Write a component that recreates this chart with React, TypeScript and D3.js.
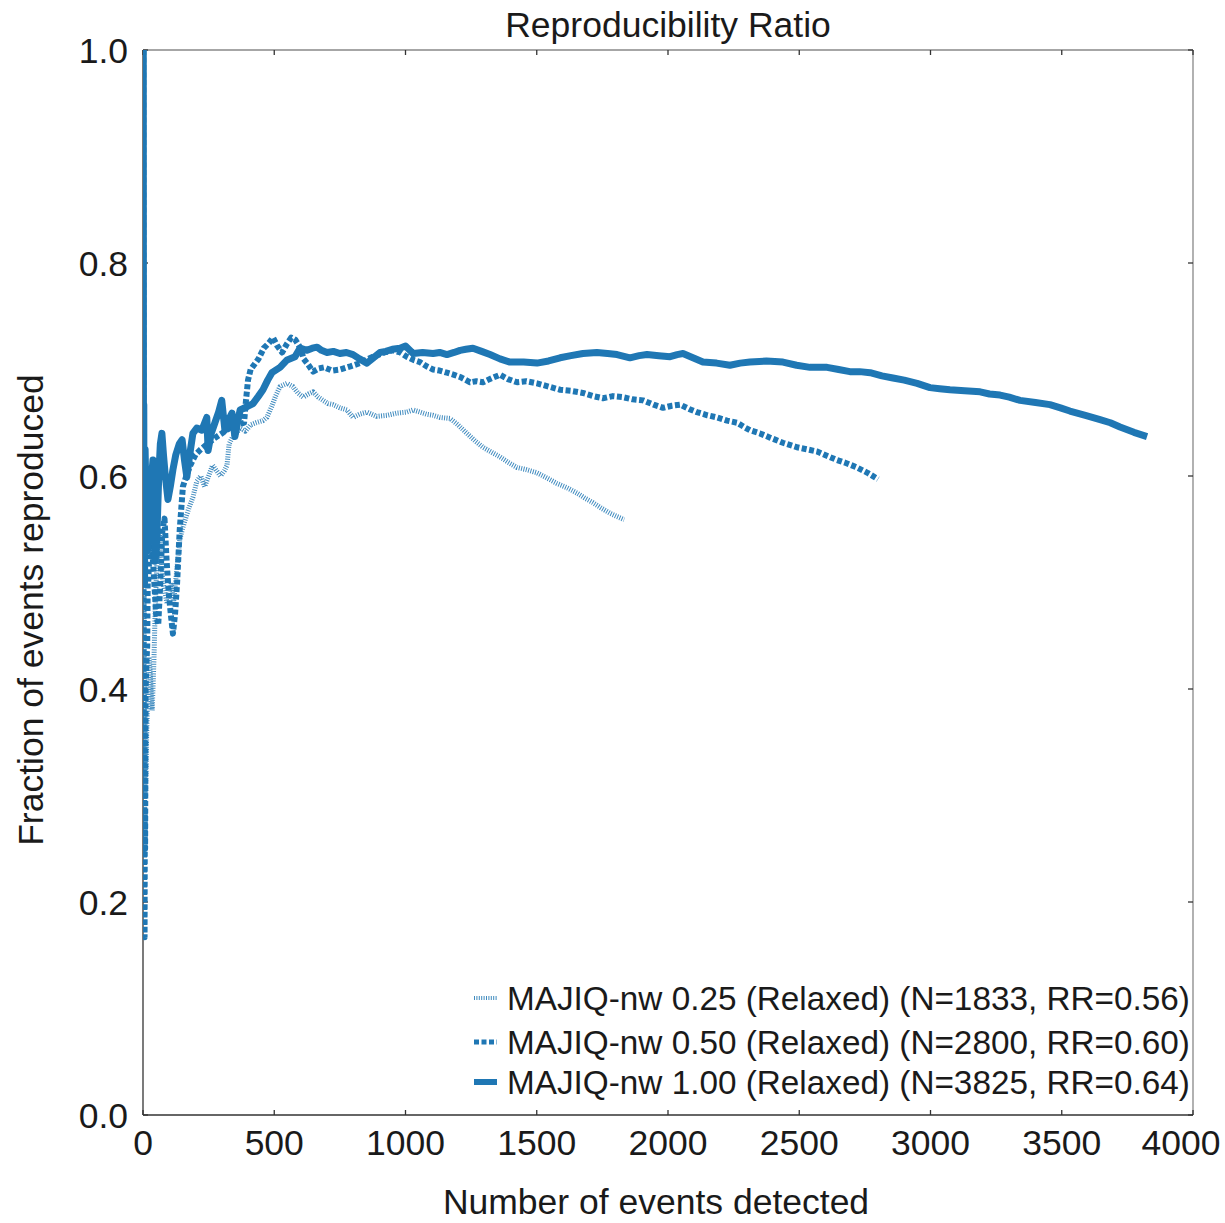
import React from "react";
import * as d3 from "d3";

const title = "Reproducibility Ratio";
const xLabel = "Number of events detected";
const yLabel = "Fraction of events reproduced";
const xTicks = [0, 500, 1000, 1500, 2000, 2500, 3000, 3500, 4000];
const yTicks = [0, 0.2, 0.4, 0.6, 0.8, 1.0];

const seriesNames = [
  "MAJIQ-nw 0.25 (Relaxed) (N=1833, RR=0.56)",
  "MAJIQ-nw 0.50 (Relaxed) (N=2800, RR=0.60)",
  "MAJIQ-nw 1.00 (Relaxed) (N=3825, RR=0.64)",
];

// [events detected, fraction reproduced]
const dotted025: [number, number][] = [
  [1, 0.5], [2, 0.5], [3, 0.333], [4, 0.5], [5, 0.4], [6, 0.333], [7, 0.286], [8, 0.375], [9, 0.333], [10, 0.3],
  [12, 0.333], [14, 0.357], [16, 0.375], [18, 0.389], [20, 0.4], [23, 0.43], [26, 0.42], [29, 0.41], [32, 0.39],
  [35, 0.38], [38, 0.4], [42, 0.43], [46, 0.47], [50, 0.5], [55, 0.53], [60, 0.55], [65, 0.54], [70, 0.52],
  [76, 0.5], [84, 0.49], [92, 0.48], [100, 0.49], [108, 0.5], [116, 0.48], [124, 0.5], [132, 0.52], [140, 0.54],
  [150, 0.55], [162, 0.56], [175, 0.57], [190, 0.58], [205, 0.595], [220, 0.6], [235, 0.59], [250, 0.6],
  [265, 0.61], [280, 0.605], [295, 0.6], [310, 0.605], [320, 0.61], [328, 0.63], [340, 0.636], [355, 0.64],
  [370, 0.645], [390, 0.642], [410, 0.648], [430, 0.65], [457, 0.652], [472, 0.655], [490, 0.665], [505, 0.675],
  [522, 0.684], [549, 0.687], [571, 0.684], [590, 0.678], [610, 0.674], [630, 0.677], [648, 0.679], [668, 0.674],
  [686, 0.671], [705, 0.668], [724, 0.667], [750, 0.664], [777, 0.662], [800, 0.655], [825, 0.658], [853, 0.66],
  [890, 0.656], [930, 0.657], [965, 0.659], [1005, 0.66], [1029, 0.662], [1055, 0.66], [1080, 0.658], [1105, 0.657],
  [1131, 0.655], [1170, 0.654], [1200, 0.648], [1234, 0.64], [1265, 0.633], [1295, 0.627], [1330, 0.622],
  [1360, 0.618], [1390, 0.613], [1425, 0.608], [1460, 0.606], [1501, 0.603], [1540, 0.598], [1577, 0.593],
  [1615, 0.589], [1653, 0.584], [1685, 0.579], [1714, 0.575], [1745, 0.57], [1779, 0.565], [1805, 0.562],
  [1833, 0.559],
];

const dashed050: [number, number][] = [
  [1, 1.0], [2, 0.5], [3, 0.333], [4, 0.25], [5, 0.2], [6, 0.167], [7, 0.286], [8, 0.25], [9, 0.333], [10, 0.4],
  [12, 0.417], [14, 0.43], [16, 0.44], [18, 0.5], [20, 0.5], [23, 0.52], [26, 0.54], [30, 0.55], [34, 0.53],
  [38, 0.52], [43, 0.5], [50, 0.47], [58, 0.46], [66, 0.5], [74, 0.55], [82, 0.56], [90, 0.52], [98, 0.49],
  [106, 0.47], [114, 0.452], [122, 0.47], [130, 0.5], [140, 0.55], [152, 0.59], [165, 0.6], [180, 0.61],
  [200, 0.62], [220, 0.625], [245, 0.63], [270, 0.635], [300, 0.64], [330, 0.645], [360, 0.648], [385, 0.65],
  [392, 0.67], [400, 0.69], [410, 0.7], [425, 0.705], [440, 0.71], [460, 0.72], [480, 0.725], [495, 0.73],
  [512, 0.722], [530, 0.716], [548, 0.724], [565, 0.73], [580, 0.728], [600, 0.72], [612, 0.71], [625, 0.706],
  [648, 0.698], [670, 0.701], [690, 0.702], [720, 0.699], [750, 0.7], [790, 0.703], [827, 0.706], [850, 0.709],
  [876, 0.712], [920, 0.716], [952, 0.718], [980, 0.716], [1005, 0.712], [1030, 0.709], [1055, 0.707],
  [1080, 0.703], [1105, 0.7], [1130, 0.699], [1158, 0.697], [1185, 0.695], [1208, 0.693], [1246, 0.688],
  [1270, 0.689], [1295, 0.688], [1330, 0.692], [1360, 0.695], [1390, 0.691], [1425, 0.688], [1460, 0.689],
  [1501, 0.687], [1545, 0.684], [1589, 0.681], [1630, 0.68], [1676, 0.678], [1715, 0.675], [1752, 0.673],
  [1790, 0.675], [1829, 0.674], [1865, 0.672], [1905, 0.671], [1945, 0.667], [1981, 0.664], [2015, 0.666],
  [2046, 0.667], [2080, 0.663], [2110, 0.66], [2150, 0.657], [2187, 0.655], [2225, 0.652], [2263, 0.65],
  [2290, 0.646], [2312, 0.643], [2350, 0.64], [2389, 0.636], [2440, 0.631], [2491, 0.627], [2530, 0.625],
  [2568, 0.623], [2605, 0.619], [2644, 0.615], [2680, 0.612], [2720, 0.608], [2760, 0.603], [2800, 0.597],
];

const solid100: [number, number][] = [
  [1, 1.0], [2, 0.5], [3, 0.667], [4, 0.5], [5, 0.6], [6, 0.5], [7, 0.571], [8, 0.625], [10, 0.6], [12, 0.583],
  [14, 0.571], [17, 0.53], [20, 0.55], [24, 0.54], [28, 0.57], [33, 0.6], [38, 0.615], [42, 0.57], [46, 0.52],
  [50, 0.53], [55, 0.56], [60, 0.6], [66, 0.63], [72, 0.64], [78, 0.62], [85, 0.6], [95, 0.578], [104, 0.59],
  [114, 0.606], [125, 0.62], [138, 0.63], [149, 0.634], [158, 0.615], [167, 0.599], [178, 0.62], [190, 0.64],
  [205, 0.645], [224, 0.643], [243, 0.655], [248, 0.624], [260, 0.64], [274, 0.65], [288, 0.66], [300, 0.671],
  [312, 0.643], [325, 0.652], [339, 0.659], [350, 0.637], [360, 0.65], [370, 0.662], [396, 0.665], [419, 0.668],
  [440, 0.675], [457, 0.681], [475, 0.69], [491, 0.697], [522, 0.702], [549, 0.709], [579, 0.712], [598, 0.72],
  [625, 0.718], [645, 0.72], [663, 0.721], [680, 0.718], [701, 0.716], [725, 0.717], [750, 0.715], [775, 0.716],
  [800, 0.714], [825, 0.71], [853, 0.706], [878, 0.711], [903, 0.716], [925, 0.717], [950, 0.719], [979, 0.72],
  [1000, 0.722], [1029, 0.715], [1065, 0.716], [1105, 0.715], [1130, 0.716], [1158, 0.714], [1185, 0.716],
  [1208, 0.718], [1230, 0.719], [1257, 0.72], [1290, 0.717], [1322, 0.714], [1360, 0.71], [1398, 0.707],
  [1450, 0.707], [1501, 0.706], [1545, 0.708], [1589, 0.711], [1630, 0.713], [1676, 0.715], [1729, 0.716],
  [1770, 0.715], [1806, 0.714], [1855, 0.711], [1890, 0.713], [1920, 0.714], [1965, 0.713], [2008, 0.712],
  [2035, 0.714], [2057, 0.715], [2095, 0.711], [2133, 0.707], [2185, 0.706], [2236, 0.704], [2275, 0.706],
  [2312, 0.707], [2375, 0.708], [2438, 0.707], [2490, 0.704], [2541, 0.702], [2606, 0.702], [2650, 0.7],
  [2693, 0.698], [2730, 0.698], [2770, 0.697], [2815, 0.694], [2857, 0.692], [2900, 0.69], [2949, 0.687],
  [2998, 0.683], [3035, 0.682], [3074, 0.681], [3130, 0.68], [3189, 0.679], [3225, 0.677], [3265, 0.676],
  [3300, 0.674], [3341, 0.671], [3400, 0.669], [3455, 0.667], [3495, 0.664], [3531, 0.661], [3590, 0.657],
  [3646, 0.653], [3685, 0.65], [3722, 0.646], [3775, 0.641], [3825, 0.637],
];

const W = 1225;
const H = 1223;
const M = { left: 143, right: 32, top: 50, bottom: 108 };
const FONT = "'Liberation Sans', Arial, Helvetica, sans-serif";
const BLUE = "#1f77b4";
const TEXT = "#1a1a1a";

const styles = [
  { data: dotted025, width: 5, dash: "1 1.4", opacity: 0.85 },
  { data: dashed050, width: 6, dash: "5 2.5", opacity: 1 },
  { data: solid100, width: 7, dash: "none", opacity: 1 },
];

export default function App() {
  const x = d3.scaleLinear().domain([0, 4000]).range([M.left, W - M.right]);
  const y = d3.scaleLinear().domain([0, 1]).range([H - M.bottom, M.top]);
  const line = d3
    .line<[number, number]>()
    .x((d) => x(d[0]))
    .y((d) => y(d[1]));
  const x0 = M.left;
  const x1 = W - M.right;
  const y0 = H - M.bottom;
  const y1 = M.top;
  const tl = 5;
  const fs = 35.5;
  const lfs = 33.3;

  const legendRows = [998, 1042, 1082];

  return (
    <div style={{ position: "absolute", left: 0, top: 0 }}>
      <svg width={W} height={H} style={{ display: "block", background: "#fff" }}>
        <defs>
          <clipPath id="plotclip">
            <rect x={x0} y={y1 - 1} width={x1 - x0} height={y0 - y1 + 1} />
          </clipPath>
        </defs>
        <rect x={0} y={0} width={W} height={H} fill="#fff" />
        {/* frame */}
        <line x1={x0} x2={x1} y1={y1} y2={y1} stroke="#888" strokeWidth={1.3} />
        <line x1={x1} x2={x1} y1={y1} y2={y0} stroke="#888" strokeWidth={1.3} />
        <line x1={x0} x2={x1} y1={y0} y2={y0} stroke="#333" strokeWidth={1.3} />
        <line x1={x0} x2={x0} y1={y1} y2={y0} stroke="#333" strokeWidth={1.3} />
        {/* ticks */}
        {xTicks.map((t) => (
          <g key={"xt" + t}>
            <line x1={x(t)} x2={x(t)} y1={y0} y2={y0 - tl} stroke="#333" strokeWidth={1.3} />
            <line x1={x(t)} x2={x(t)} y1={y1} y2={y1 + tl} stroke="#333" strokeWidth={1.3} />
            <text
              x={t === 4000 ? x(t) - 12 : x(t)}
              y={y0 + 40}
              textAnchor="middle"
              fontFamily={FONT}
              fontSize={fs}
              fill={TEXT}
            >
              {t}
            </text>
          </g>
        ))}
        {yTicks.map((t) => (
          <g key={"yt" + t}>
            <line x1={x0} x2={x0 + tl} y1={y(t)} y2={y(t)} stroke="#333" strokeWidth={1.3} />
            <line x1={x1} x2={x1 - tl} y1={y(t)} y2={y(t)} stroke="#333" strokeWidth={1.3} />
            <text
              x={x0 - 15}
              y={y(t) + 13}
              textAnchor="end"
              fontFamily={FONT}
              fontSize={fs}
              fill={TEXT}
            >
              {d3.format(".1f")(t)}
            </text>
          </g>
        ))}
        {/* series */}
        <g clipPath="url(#plotclip)">
          {styles.map((s, i) => (
            <path
              key={"s" + i}
              d={line(s.data) || ""}
              fill="none"
              stroke={BLUE}
              strokeWidth={s.width}
              strokeDasharray={s.dash}
              strokeLinejoin="round"
              opacity={s.opacity}
            />
          ))}
        </g>
        {/* legend */}
        {styles.map((s, i) => (
          <g key={"lg" + i}>
            <line
              x1={474}
              x2={497}
              y1={legendRows[i]}
              y2={legendRows[i]}
              stroke={BLUE}
              strokeWidth={s.width - 1}
              strokeDasharray={s.dash}
              opacity={s.opacity}
            />
            <text
              x={507}
              y={legendRows[i] + 12}
              fontFamily={FONT}
              fontSize={lfs}
              fill={TEXT}
            >
              {seriesNames[i]}
            </text>
          </g>
        ))}
        {/* titles */}
        <text x={668} y={37} textAnchor="middle" fontFamily={FONT} fontSize={fs} fill={TEXT}>
          {title}
        </text>
        <text x={656} y={1214} textAnchor="middle" fontFamily={FONT} fontSize={fs} fill={TEXT}>
          {xLabel}
        </text>
        <text
          transform={`translate(43, 610) rotate(-90)`}
          textAnchor="middle"
          fontFamily={FONT}
          fontSize={fs}
          fill={TEXT}
        >
          {yLabel}
        </text>
      </svg>
    </div>
  );
}
